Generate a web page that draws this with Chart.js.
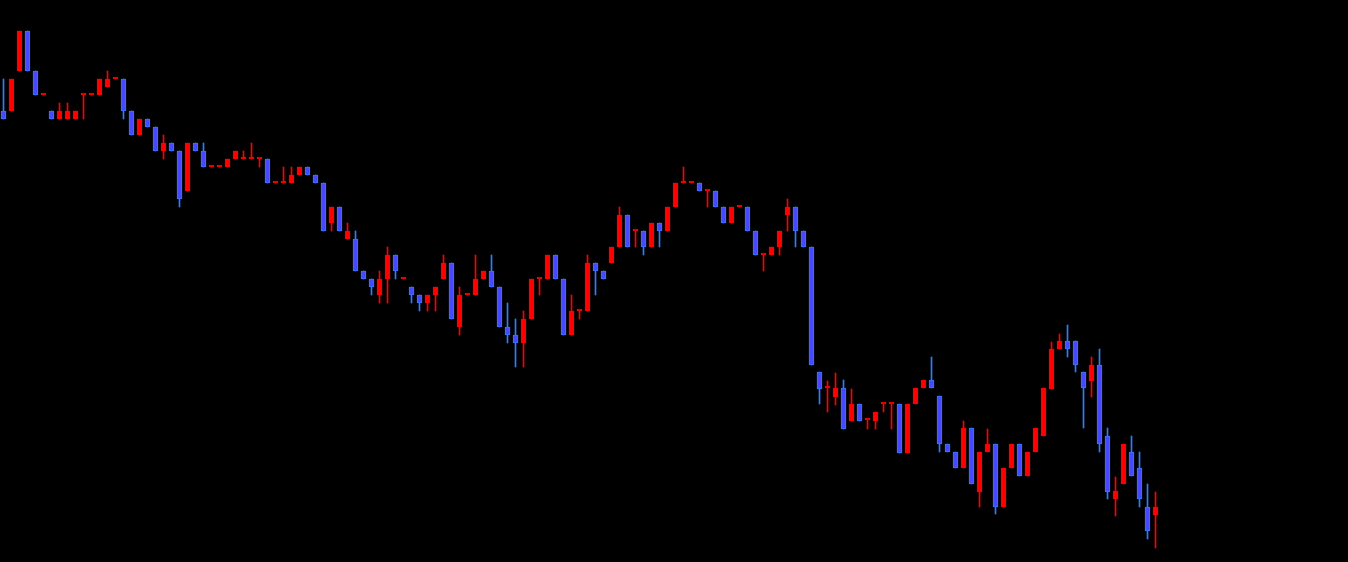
<!DOCTYPE html>
<html>
<head>
<meta charset="utf-8">
<script src="https://cdn.jsdelivr.net/npm/chart.js@4/dist/chart.umd.min.js"></script>
<style>
  html, body { margin: 0; padding: 0; background: #000; }
  #contenedor { width: 1348px; height: 562px; }
</style>
</head>
<body>
<div id="contenedor"><canvas id="grafico"></canvas></div>
<script>
// Datos de las velas (precio en puntos)
const apertura = [
    451, 451, 491, 531, 491, 467, 451, 443, 443, 443,
    467, 467, 467, 475, 483, 483, 451, 427, 443, 435,
    411, 419, 411, 371, 419, 411, 395, 395, 395, 403,
    403, 403, 403, 403, 379, 379, 379, 387, 395, 387,
    379, 339, 355, 323, 323, 291, 283, 267, 283, 307,
    283, 275, 267, 259, 267, 283, 299, 235, 267, 267,
    283, 291, 275, 235, 227, 219, 243, 283, 283, 307,
    283, 227, 251, 251, 299, 291, 299, 315, 347, 331,
    331, 315, 339, 331, 355, 379, 379, 379, 371, 371,
    355, 339, 355, 355, 331, 307, 307, 315, 347, 355,
    331, 315, 190, 174, 165, 174, 141, 158, 142, 141,
    158, 158, 158, 109, 158, 174, 182, 166, 118, 110,
    94, 134, 70, 110, 118, 55, 94, 118, 86, 110,
    126, 173, 213, 221, 221, 190, 181, 197, 126, 63,
    78, 110, 94, 55, 47
];
const maximo = [
    483, 483, 531, 531, 491, 467, 451, 459, 459, 451,
    467, 467, 483, 491, 483, 483, 451, 443, 443, 435,
    427, 419, 411, 419, 419, 419, 395, 395, 403, 411,
    411, 419, 403, 403, 379, 395, 395, 395, 395, 387,
    379, 355, 355, 339, 331, 291, 283, 291, 315, 307,
    283, 275, 267, 267, 275, 307, 299, 275, 267, 307,
    291, 307, 275, 259, 243, 251, 283, 283, 307, 307,
    283, 267, 251, 307, 299, 291, 315, 355, 347, 331,
    331, 339, 339, 355, 379, 395, 379, 379, 371, 371,
    355, 355, 355, 355, 331, 307, 315, 331, 363, 355,
    331, 315, 190, 181, 189, 182, 173, 158, 142, 150,
    158, 158, 158, 158, 174, 182, 205, 166, 118, 110,
    141, 134, 110, 133, 118, 94, 118, 118, 110, 134,
    174, 220, 228, 237, 221, 190, 205, 213, 134, 85,
    118, 126, 110, 78, 70
];
const minimo = [
    443, 451, 491, 491, 467, 467, 443, 443, 443, 443,
    443, 467, 467, 475, 483, 443, 427, 427, 435, 411,
    403, 411, 355, 371, 411, 395, 395, 395, 395, 403,
    403, 403, 395, 379, 379, 379, 379, 387, 387, 379,
    331, 331, 331, 323, 291, 283, 267, 259, 259, 283,
    283, 259, 251, 251, 251, 283, 243, 227, 267, 267,
    283, 275, 235, 219, 195, 195, 243, 267, 283, 283,
    227, 227, 243, 251, 267, 283, 299, 315, 315, 315,
    307, 315, 315, 331, 355, 379, 379, 371, 355, 355,
    339, 339, 355, 331, 307, 291, 307, 307, 331, 315,
    315, 197, 158, 150, 157, 133, 141, 141, 133, 133,
    150, 133, 109, 109, 158, 174, 174, 110, 110, 94,
    94, 78, 55, 110, 48, 55, 94, 86, 86, 110,
    126, 173, 213, 205, 190, 134, 165, 110, 63, 46,
    78, 86, 55, 23, 14
];
const cierre = [
    443, 483, 531, 491, 467, 467, 443, 451, 451, 451,
    467, 467, 483, 483, 483, 451, 427, 443, 435, 411,
    419, 411, 363, 419, 411, 395, 395, 395, 403, 411,
    403, 403, 403, 379, 379, 379, 387, 395, 387, 379,
    331, 355, 331, 331, 291, 283, 275, 283, 307, 291,
    283, 267, 259, 267, 275, 299, 243, 267, 267, 283,
    291, 275, 235, 227, 219, 243, 283, 283, 307, 283,
    227, 251, 251, 299, 291, 283, 315, 347, 315, 331,
    315, 339, 331, 355, 379, 379, 379, 371, 371, 355,
    339, 355, 355, 331, 307, 307, 315, 331, 355, 331,
    315, 197, 173, 174, 174, 133, 158, 141, 142, 150,
    158, 158, 109, 158, 174, 182, 174, 118, 110, 94,
    134, 78, 110, 118, 55, 94, 118, 86, 110, 134,
    174, 213, 221, 213, 197, 174, 197, 118, 70, 71,
    118, 86, 63, 31, 55
];

const ROJO = '#ff0000';
const AZUL = '#4848ff';
const AZUL_BORDE = '#2d7dff';

document.addEventListener('DOMContentLoaded', function() {
    dibujarVelas();
});

function dibujarVelas() {
    let cuerpos = [];
    let mechas = [];
    let colorCuerpo = [];
    let colorBorde = [];
    let colorMecha = [];

    apertura.forEach((a, i) => {
        cuerpos.push({ x: i, y: [a, cierre[i]] });
        mechas.push({ x: i, y: [minimo[i], maximo[i]] });
        let sube = cierre[i] >= a;
        colorCuerpo.push(sube ? ROJO : AZUL);
        colorBorde.push(sube ? ROJO : AZUL_BORDE);
        colorMecha.push(sube ? ROJO : AZUL_BORDE);
    });

    const ctx = document.getElementById('grafico').getContext('2d');
    const myChart = new Chart(ctx, {
        type: 'bar',
        data: {
            datasets: [{
                label: 'Cuerpo',
                data: cuerpos,
                backgroundColor: colorCuerpo,
                borderColor: colorBorde,
                borderWidth: 1,
                borderSkipped: false,
                barThickness: 5,
                minBarLength: 2,
                grouped: false
            }, {
                label: 'Mecha',
                data: mechas,
                backgroundColor: colorMecha,
                borderWidth: 0,
                barThickness: 1,
                minBarLength: 1,
                grouped: false
            }]
        },
        options: {
            responsive: true,
            maintainAspectRatio: false,
            animation: false,
            events: [],
            layout: { padding: 0 },
            plugins: {
                legend: { display: false },
                tooltip: { enabled: false }
            },
            scales: {
                x: {
                    type: 'linear',
                    display: false,
                    offset: false,
                    min: -0.4375,
                    max: 168.0625
                },
                y: {
                    display: false,
                    min: 0,
                    max: 562
                }
            }
        }
    });
}
</script>
</body>
</html>
